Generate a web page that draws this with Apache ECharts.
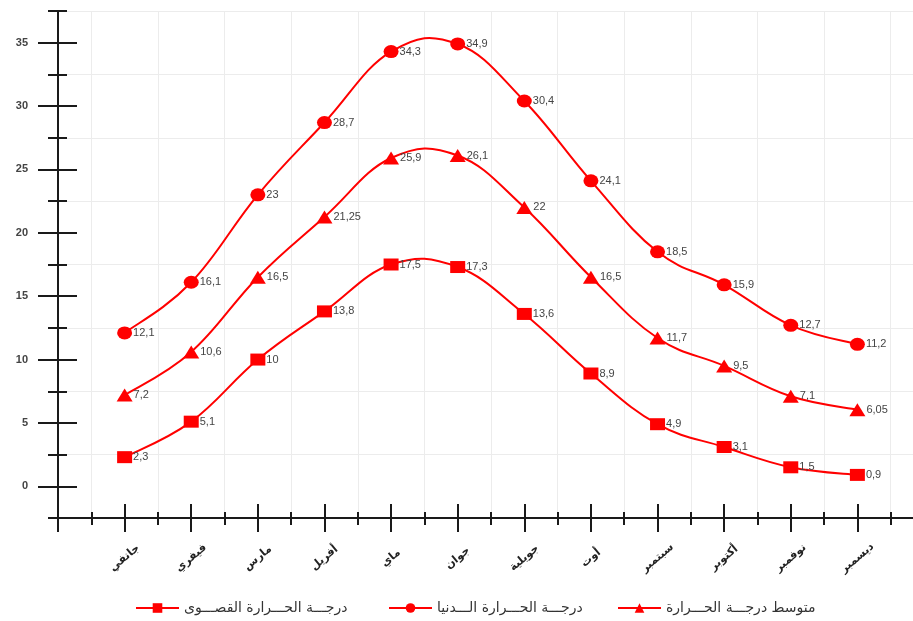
<!DOCTYPE html>
<html>
<head>
<meta charset="utf-8">
<script src="https://cdn.jsdelivr.net/npm/echarts@6/dist/echarts.min.js"></script>
<style>
  html, body { margin: 0; padding: 0; background: #ffffff; }
  #chart { width: 913px; height: 621px; }
</style>
</head>
<body>
<div id="chart"></div>
<script>
// Month names (Maghreb usage), one per category position 1..12
const months = ['جانفي', 'فيفري', 'مارس', 'أفريل', 'ماي', 'جوان', 'جويلية', 'أوت', 'سبتمبر', 'أكتوبر', 'نوفمبر', 'ديسمبر'];

// Series names as written in the legend
const nameMax = 'درجـــة الحـــرارة القصـــوى';
const nameMin = 'درجـــة الحـــرارة الـــدنيا';
const nameAvg = 'متوسط درجـــة الحـــرارة';

// Monthly temperatures (°C)
const valuesSquare = [2.3, 5.1, 10, 13.8, 17.5, 17.3, 13.6, 8.9, 4.9, 3.1, 1.5, 0.9];
const valuesCircle = [12.1, 16.1, 23, 28.7, 34.3, 34.9, 30.4, 24.1, 18.5, 15.9, 12.7, 11.2];
const valuesTriangle = [7.2, 10.6, 16.5, 21.25, 25.9, 26.1, 22, 16.5, 11.7, 9.5, 7.1, 6.05];

// Y tick labels
const yLabels = [0, 5, 10, 15, 20, 25, 30, 35];

const RED = '#ff0000';
const AXIS = '#1a1a1a';
const GRID = '#ececec';
const LABEL_FONT = 'Liberation Sans, Arial, sans-serif';
const ARABIC_FONT = 'DejaVu Sans, sans-serif';
const TENSION = 0.2;

function toPoints(values) {
  return values.map((v, i) => [i + 1, v]);
}

function commaDecimal(v) {
  return String(v).replace('.', ',');
}

// Markers and value labels
function makeMarkers(name, values, symbol, size) {
  return {
    name: name,
    type: 'line',
    xAxisIndex: 0,
    yAxisIndex: 0,
    data: toPoints(values),
    symbol: symbol,
    symbolSize: size,
    showAllSymbol: true,
    itemStyle: { color: RED },
    lineStyle: { color: RED, width: 2, opacity: 0 },
    label: {
      show: true,
      position: 'right',
      distance: 1,
      color: '#444',
      fontSize: 11,
      fontFamily: LABEL_FONT,
      formatter: p => commaDecimal(p.value[1])
    },
    emphasis: { disabled: true },
    z: 4
  };
}

// Smooth curve through the points: one cubic segment per pair of points,
// control points taken from the neighbouring points (cardinal spline).
function makeCurve(values) {
  const pts = toPoints(values);
  return {
    type: 'custom',
    xAxisIndex: 0,
    yAxisIndex: 0,
    data: pts.slice(0, -1),
    silent: true,
    z: 3,
    renderItem: function (params, api) {
      const i = params.dataIndex;
      const c = k => api.coord(pts[Math.max(0, Math.min(pts.length - 1, k))]);
      const p0 = c(i - 1), p1 = c(i), p2 = c(i + 1), p3 = c(i + 2);
      const cp1 = [p1[0] + (p2[0] - p0[0]) * TENSION, p1[1] + (p2[1] - p0[1]) * TENSION];
      const cp2 = [p2[0] - (p3[0] - p1[0]) * TENSION, p2[1] - (p3[1] - p1[1]) * TENSION];
      return {
        type: 'bezierCurve',
        shape: {
          x1: p1[0], y1: p1[1],
          cpx1: cp1[0], cpy1: cp1[1],
          cpx2: cp2[0], cpy2: cp2[1],
          x2: p2[0], y2: p2[1]
        },
        style: { stroke: RED, lineWidth: 2, fill: null }
      };
    }
  };
}

const tickLine = { color: AXIS, width: 2 };

const option = {
  backgroundColor: '#ffffff',
  animation: false,
  grid: {
    left: 58, width: 866, top: 11, height: 507,
    containLabel: false,
    outerBoundsMode: 'none'
  },
  xAxis: [
    {
      type: 'value', position: 'bottom', min: 0, max: 13, interval: 1,
      axisLine: { show: true, onZero: false, lineStyle: { color: AXIS, width: 2 } },
      axisTick: { show: true, length: 14, inside: false, lineStyle: tickLine },
      minorTick: { show: true, splitNumber: 2, length: 7, lineStyle: tickLine },
      splitLine: { show: false },
      minorSplitLine: { show: true, lineStyle: { color: GRID, width: 1 } },
      axisLabel: {
        show: true,
        rotate: 40,
        align: 'center',
        verticalAlign: 'middle',
        margin: 40,
        fontSize: 11,
        fontWeight: 'bold',
        color: '#222',
        fontFamily: ARABIC_FONT,
        formatter: v => (v >= 1 && v <= 12 ? months[v - 1] : '')
      }
    },
    {
      type: 'value', position: 'bottom', min: 0, max: 13, interval: 1,
      axisLine: { show: false, onZero: false },
      axisTick: { show: true, length: 14, inside: true, lineStyle: tickLine },
      minorTick: { show: true, splitNumber: 2, length: 6, lineStyle: tickLine },
      splitLine: { show: false },
      axisLabel: { show: false }
    }
  ],
  yAxis: [
    {
      type: 'value', position: 'left', min: -2.5, max: 37.5, interval: 5,
      axisLine: { show: true, onZero: false, lineStyle: { color: AXIS, width: 2 } },
      axisTick: { show: true, length: 10, inside: false, lineStyle: tickLine },
      minorTick: { show: true, splitNumber: 2, length: 20, lineStyle: tickLine },
      splitLine: { show: true, lineStyle: { color: GRID, width: 1 } },
      axisLabel: { show: false }
    },
    {
      type: 'value', position: 'left', min: -2.5, max: 37.5, interval: 5,
      axisLine: { show: false, onZero: false },
      axisTick: { show: true, length: 9, inside: true, lineStyle: tickLine },
      minorTick: { show: true, splitNumber: 2, length: 19, lineStyle: tickLine },
      splitLine: { show: false },
      axisLabel: { show: false }
    },
    {
      type: 'value', position: 'left', min: -2.5, max: 37.5, interval: 2.5,
      axisLine: { show: false, onZero: false },
      axisTick: { show: false },
      splitLine: { show: false },
      axisLabel: {
        show: true,
        margin: 30,
        fontSize: 11,
        fontWeight: 'bold',
        color: '#444',
        fontFamily: LABEL_FONT,
        formatter: v => (yLabels.indexOf(v) >= 0 ? String(v) : '')
      }
    }
  ],
  legend: [
    { data: [nameMax], left: 130 },
    { data: [nameMin], left: 383 },
    { data: [nameAvg], left: 612 }
  ].map(l => Object.assign({
    top: 596,
    itemWidth: 43,
    itemHeight: 12,
    itemGap: 6,
    selectedMode: false,
    lineStyle: { color: RED, width: 2, opacity: 1 },
    textStyle: { fontSize: 14, color: '#333', fontFamily: ARABIC_FONT }
  }, l)),
  series: [
    makeCurve(valuesSquare),
    makeCurve(valuesCircle),
    makeCurve(valuesTriangle),
    makeMarkers(nameMax, valuesSquare, 'rect', [15, 12]),
    makeMarkers(nameMin, valuesCircle, 'circle', [15, 13]),
    makeMarkers(nameAvg, valuesTriangle, 'triangle', [16, 13])
  ]
};

const chart = echarts.init(document.getElementById('chart'), null, { renderer: 'canvas' });
chart.setOption(option);
</script>
</body>
</html>
